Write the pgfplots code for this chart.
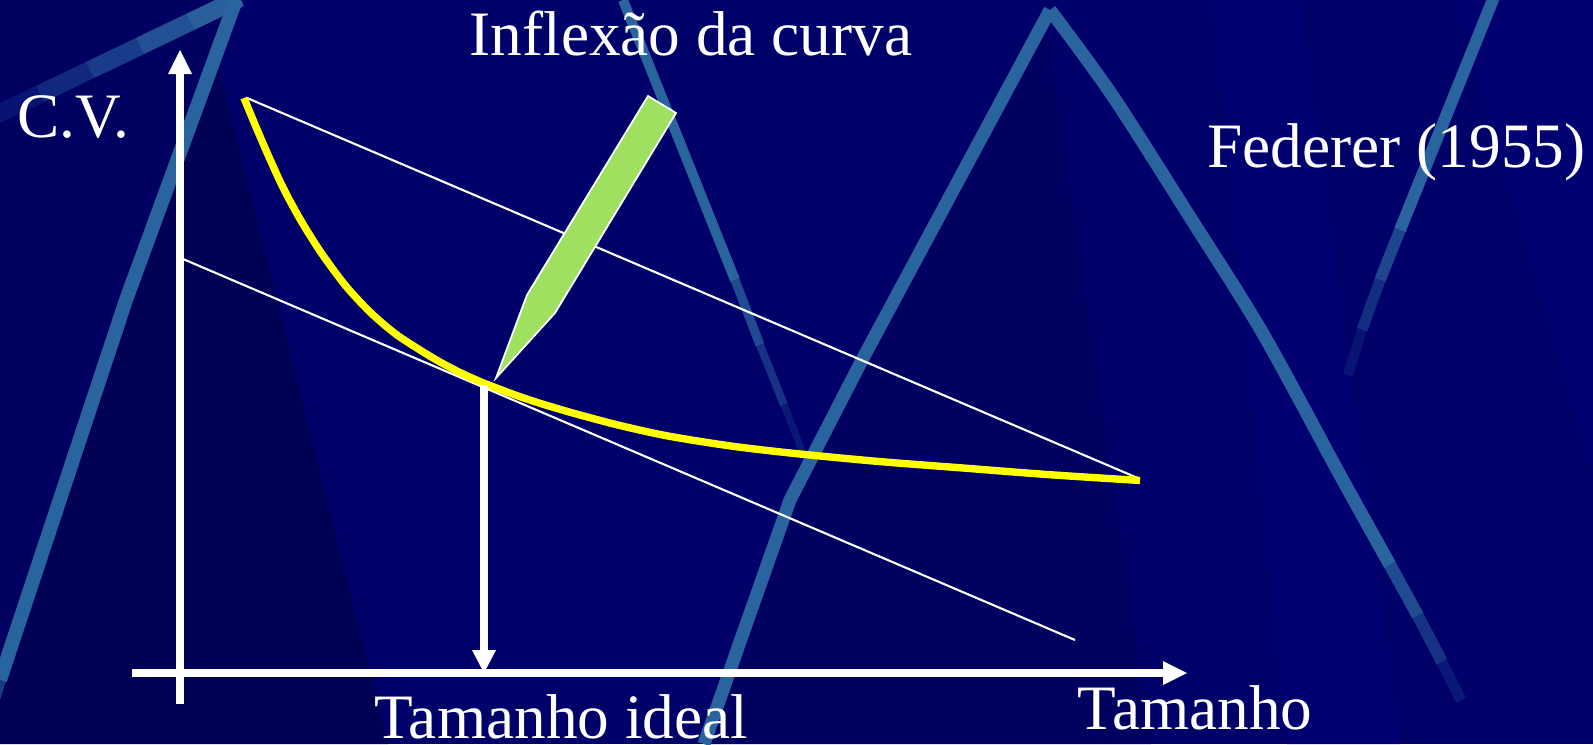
\documentclass[border=0pt]{standalone}
\usepackage{pgfplots}
\pgfplotsset{compat=1.18}
\usepackage{fontspec}
\setmainfont{Liberation Serif}

\definecolor{navy}{RGB}{0,0,106}
\definecolor{navydk}{RGB}{0,0,84}
\definecolor{navymd}{RGB}{0,0,96}
\definecolor{navylt}{RGB}{0,0,112}
\definecolor{stripe}{RGB}{42,100,158}
\definecolor{pencil}{RGB}{160,224,96}
\definecolor{curve}{RGB}{255,255,0}

\begin{document}
\begin{tikzpicture}
\begin{axis}[
    hide axis,
    scale only axis,
    width=15.93cm, height=7.44cm,
    xmin=0, xmax=1593, ymin=0, ymax=744,
    y dir=reverse,
    clip=true,
    every axis plot/.append style={line cap=butt, line join=round},
]
% background (pixel coordinates, y downwards)
\addplot[fill=navy, draw=none] coordinates {(0,0) (1593,0) (1593,744) (0,744)} -- cycle;
\addplot[fill=navymd, draw=none] coordinates {(0,0) (236,0) (0,680)} -- cycle;
\addplot[fill=navydk, draw=none] coordinates {(216,55) (388,744) (0,744) (0,680)} -- cycle;
\addplot[fill=navymd, draw=none] coordinates {(1045,20) (1151,744) (704,744) (790,500) (862,360)} -- cycle;
\addplot[fill=navylt, draw=none] coordinates {(1454,0) (1593,0) (1593,475)} -- cycle;
\addplot[fill=navylt, draw=none] coordinates {(1212,0) (1300,0) (1400,744) (1287,744)} -- cycle;

% light stripes
\addplot[draw=stripe!20!navy, line width=0.18cm] coordinates {(-10,118) (40,94)};
\addplot[draw=stripe!40!navy, line width=0.18cm] coordinates {(40,94) (90,70)};
\addplot[draw=stripe!60!navy, line width=0.18cm] coordinates {(90,70) (140,46)};
\addplot[draw=stripe!80!navy, line width=0.18cm] coordinates {(140,46) (190,22)};
\addplot[draw=stripe!95!navy, line width=0.18cm] coordinates {(190,22) (240,-2)};
\addplot[draw=stripe, line width=0.14cm] coordinates {(236,0) (126,300) (0,680)};
\addplot[draw=stripe!60!navy, line width=0.12cm] coordinates {(0,680) (-20,744)};
\addplot[draw=stripe, line width=0.10cm] coordinates {(623,0) (735,280)};
\addplot[draw=stripe!75!navy, line width=0.09cm] coordinates {(735,280) (760,345)};
\addplot[draw=stripe!50!navy, line width=0.08cm] coordinates {(760,345) (784,405)};
\addplot[draw=stripe!25!navy, line width=0.07cm] coordinates {(784,405) (805,458)};
\addplot[draw=stripe, line width=0.13cm] coordinates {(704,744) (790,500) (862,360) (1050,10)};
\addplot[draw=stripe, line width=0.13cm, smooth] coordinates {(1050,10) (1112,95) (1188,214) (1262,332) (1340,475) (1390,565)};
\addplot[draw=stripe!75!navy, line width=0.125cm] coordinates {(1390,565) (1418,616)};
\addplot[draw=stripe!50!navy, line width=0.12cm] coordinates {(1418,616) (1442,662)};
\addplot[draw=stripe!25!navy, line width=0.11cm] coordinates {(1442,662) (1461,700)};
\addplot[draw=stripe, line width=0.12cm] coordinates {(1496,-8) (1400,230)};
\addplot[draw=stripe!70!navy, line width=0.115cm] coordinates {(1400,230) (1380,280)};
\addplot[draw=stripe!45!navy, line width=0.11cm] coordinates {(1380,280) (1362,330)};
\addplot[draw=stripe!20!navy, line width=0.10cm] coordinates {(1362,330) (1348,375)};

% tangent lines
\addplot[draw=white, line width=0.6pt] coordinates {(247,98) (1140,479)};
\addplot[draw=white, line width=0.6pt] coordinates {(183,259) (1075,640)};

% coefficient of variation curve
\addplot[draw=curve, line width=2.1pt, smooth] coordinates {
    (244,98) (256,127) (269,157) (283,187.5) (300,219) (320,251) (345,285)
    (370,312) (395,333.5) (420,350) (440,362) (460,372.5) (480,381.5)
    (500,389.3) (520,396.7) (540,403.3) (560,409.3) (580,415) (620,425.5)
    (668,436) (731,446) (795,453.5) (879,461.5) (963,468) (1047,474.5) (1140,480.5)};

% axes
\addplot[draw=white, line width=2pt] coordinates {(180,704) (180,72)};
\addplot[fill=white, draw=none] coordinates {(168,74) (192,74) (180,50)} -- cycle;
\addplot[draw=white, line width=2pt] coordinates {(132,673) (1165,673)};
\addplot[fill=white, draw=none] coordinates {(1163,661) (1163,685) (1187,673)} -- cycle;

% arrow to the ideal size
\addplot[draw=white, line width=2pt] coordinates {(484,385) (484,652)};
\addplot[fill=white, draw=none] coordinates {(472,650) (496,650) (484,673)} -- cycle;

% pencil
\addplot[fill=pencil, draw=white, line width=0.5pt, line join=miter]
    coordinates {(648,96) (676,113) (555,313) (496,378) (527,295)} -- cycle;

% texts
\node[anchor=base west, inner sep=0, text=white, font=\fontsize{18}{20}\selectfont] at (469,56) {Inflexão da curva};
\node[anchor=base west, inner sep=0, text=white, font=\fontsize{18}{20}\selectfont] at (17,137) {C.V.};
\node[anchor=base west, inner sep=0, text=white, font=\fontsize{18}{20}\selectfont] at (1207,167) {Federer (1955)};
\node[anchor=base west, inner sep=0, text=white, font=\fontsize{18}{20}\selectfont] at (374,738) {Tamanho ideal};
\node[anchor=base west, inner sep=0, text=white, font=\fontsize{18}{20}\selectfont] at (1077,729) {Tamanho};
\end{axis}
\end{tikzpicture}
\end{document}
